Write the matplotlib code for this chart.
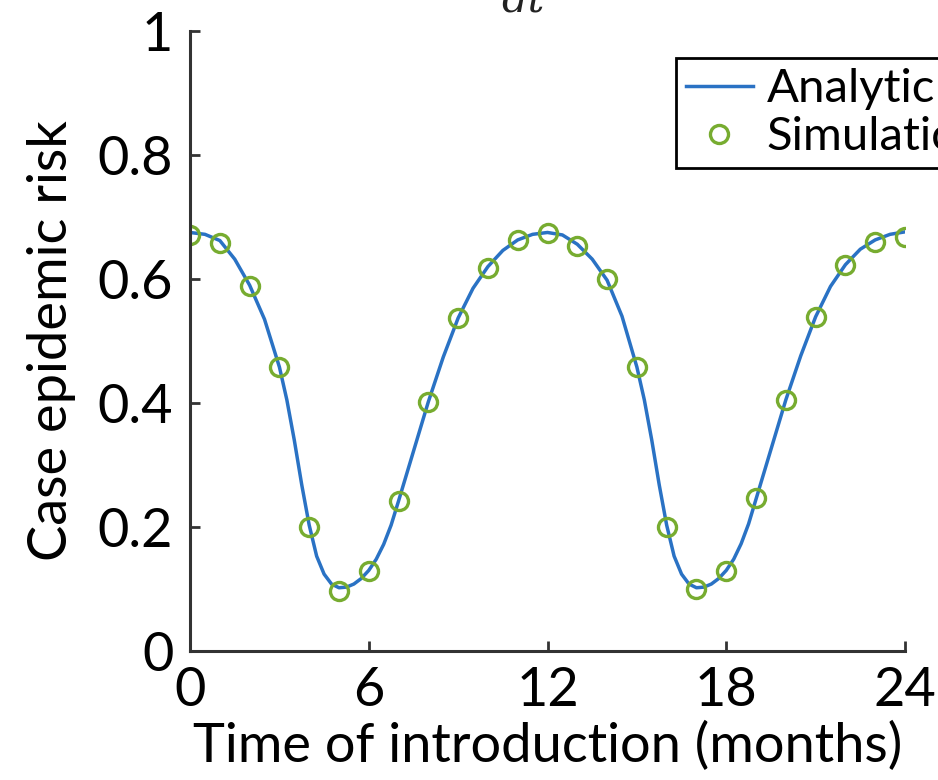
import numpy as np
import matplotlib.pyplot as plt

plt.rcParams['font.family'] = ['Lato', 'DejaVu Sans']

# analytic curve
t_curve = [0, 0.5, 1, 1.5, 2, 2.5, 3, 3.25, 3.5, 3.75, 4, 4.25, 4.5, 4.75, 5, 5.25, 5.5, 5.75,
           6, 6.25, 6.5, 6.75, 7, 7.5, 8, 8.5, 9, 9.5, 10, 10.5, 11, 11.5,
           12, 12.5, 13, 13.5, 14, 14.5, 15, 15.25, 15.5, 15.75, 16, 16.25, 16.5, 16.75, 17, 17.25, 17.5, 17.75,
           18, 18.25, 18.5, 18.75, 19, 19.5, 20, 20.5, 21, 21.5, 22, 22.5, 23, 23.5, 24]
risk_curve = [0.675, 0.672, 0.662, 0.632, 0.590, 0.535, 0.458, 0.405, 0.340, 0.268, 0.203, 0.153, 0.124, 0.108, 0.102, 0.103, 0.108, 0.117,
              0.130, 0.148, 0.172, 0.203, 0.242, 0.322, 0.402, 0.474, 0.537, 0.585, 0.620, 0.646, 0.663, 0.672,
              0.675, 0.671, 0.656, 0.632, 0.598, 0.540, 0.458, 0.405, 0.340, 0.268, 0.203, 0.153, 0.124, 0.108, 0.102, 0.103, 0.108, 0.117,
              0.130, 0.148, 0.173, 0.205, 0.245, 0.325, 0.405, 0.476, 0.539, 0.588, 0.623, 0.648, 0.663, 0.672, 0.676]

# simulation points
t_sim = list(range(25))
risk_sim = [0.671, 0.658, 0.589, 0.458, 0.200, 0.097, 0.129, 0.242, 0.402, 0.537, 0.618, 0.663, 0.674,
            0.653, 0.600, 0.458, 0.200, 0.100, 0.129, 0.247, 0.405, 0.539, 0.623, 0.660, 0.668]

fig = plt.figure(figsize=(9.38, 7.8), dpi=100)
ax = fig.add_axes([0.2026, 0.1654, 0.7622, 0.7949])

ax.plot(t_curve, risk_curve, '-', color='#2a72c4', lw=2.5, label='Analytic')
ax.plot(t_sim, risk_sim, 'o', mfc='none', mec='#77ac30', mew=2.4, ms=13, label='Simulation')

ax.set_xlim(0, 24)
ax.set_ylim(0, 1)
ax.set_xticks([0, 6, 12, 18, 24])
ax.set_yticks([0, 0.2, 0.4, 0.6, 0.8, 1])
ax.set_yticklabels(['0', '0.2', '0.4', '0.6', '0.8', '1'])
ax.tick_params(direction='in', length=7, width=2, labelsize=39, color='#333333')
ax.tick_params(axis='y', pad=12)
ax.tick_params(axis='x', pad=11)
for s in ['top', 'right']:
    ax.spines[s].set_visible(False)
for s in ['left', 'bottom']:
    ax.spines[s].set_linewidth(2.2)
    ax.spines[s].set_color('#333333')

ax.set_xlabel('Time of introduction (months)', fontsize=39, labelpad=4)
ax.set_ylabel('Case epidemic risk', fontsize=39, labelpad=16)

leg = fig.legend(loc='upper left', bbox_to_anchor=(676 / 938, 1 - 58 / 780), fontsize=34,
                 frameon=True, fancybox=False, edgecolor='black', framealpha=1,
                 handlelength=1.4, borderpad=0.22, labelspacing=0.12, handletextpad=0.3,
                 borderaxespad=0)
leg.get_frame().set_linewidth(2)

fig.text(523 / 938, 1.0, 'dt', fontsize=30, family='DejaVu Serif', style='italic', ha='center', va='center', color='#222222')

plt.savefig('out.png', dpi=100)
